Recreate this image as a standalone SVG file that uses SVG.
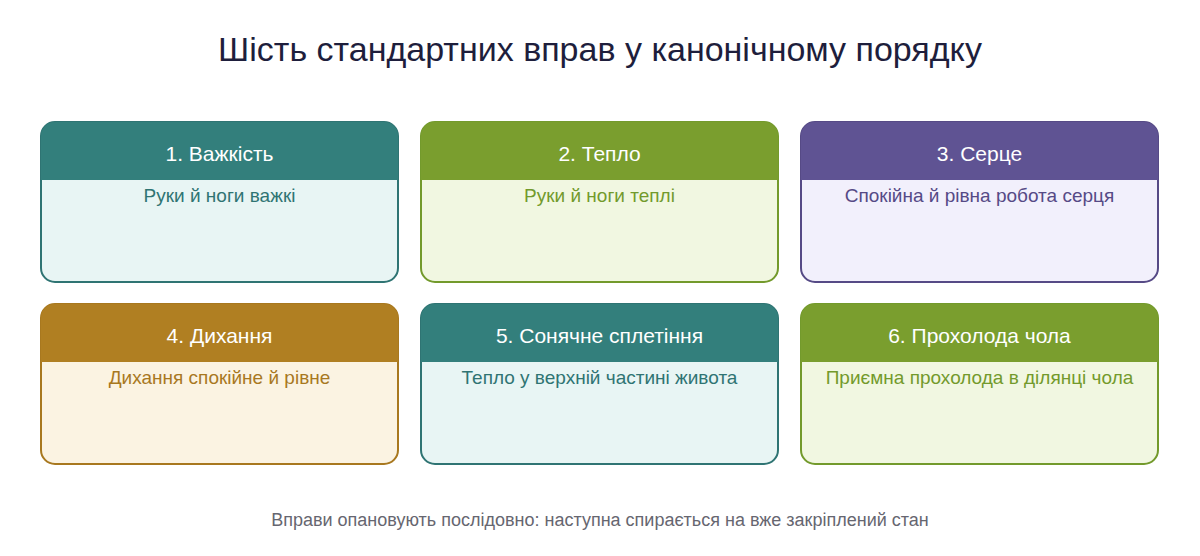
<svg xmlns="http://www.w3.org/2000/svg" width="1200" height="556" viewBox="0 0 1200 556">
<defs>
<style>
text{font-family:"Liberation Sans",Arial,sans-serif;text-anchor:middle}
.title{font-size:34px;fill:#1e1e3c}
.foot{font-size:18px;fill:#666670}
.hd{font-size:21px;fill:#ffffff}
.bd{font-size:19px}
.teal .box{fill:#e8f5f4;stroke:#2f7473}
.teal .hdr{fill:#337f7c}
.teal .bd{fill:#2f7473}
.green .box{fill:#f1f7e1;stroke:#739a2c}
.green .hdr{fill:#7a9e2e}
.green .bd{fill:#739a2c}
.purple .box{fill:#f2f0fc;stroke:#564a86}
.purple .hdr{fill:#5f5393}
.purple .bd{fill:#564a86}
.ochre .box{fill:#fbf3e2;stroke:#a8781f}
.ochre .hdr{fill:#b07f22}
.ochre .bd{fill:#a8781f}
.box{stroke-width:2}
</style>
</defs>
<rect width="1200" height="556" fill="#ffffff"/>
<text class="title" x="600" y="61">Шість стандартних вправ у канонічному порядку</text>
<g id="connectors"/>
<g id="node1" class="teal" transform="translate(41,122)">
<rect class="box" x="0" y="0" width="357" height="160" rx="14"/>
<path class="hdr" d="M0,58 V14 A14,14 0 0 1 14,0 H343 A14,14 0 0 1 357,14 V58 Z"/>
<text class="hd" x="178.5" y="39">1. Важкість</text>
<text class="bd" x="178.5" y="80">Руки й ноги важкі</text>
</g>
<g id="node2" class="green" transform="translate(421,122)">
<rect class="box" x="0" y="0" width="357" height="160" rx="14"/>
<path class="hdr" d="M0,58 V14 A14,14 0 0 1 14,0 H343 A14,14 0 0 1 357,14 V58 Z"/>
<text class="hd" x="178.5" y="39">2. Тепло</text>
<text class="bd" x="178.5" y="80">Руки й ноги теплі</text>
</g>
<g id="node3" class="purple" transform="translate(801,122)">
<rect class="box" x="0" y="0" width="357" height="160" rx="14"/>
<path class="hdr" d="M0,58 V14 A14,14 0 0 1 14,0 H343 A14,14 0 0 1 357,14 V58 Z"/>
<text class="hd" x="178.5" y="39">3. Серце</text>
<text class="bd" x="178.5" y="80">Спокійна й рівна робота серця</text>
</g>
<g id="node4" class="ochre" transform="translate(41,304)">
<rect class="box" x="0" y="0" width="357" height="160" rx="14"/>
<path class="hdr" d="M0,58 V14 A14,14 0 0 1 14,0 H343 A14,14 0 0 1 357,14 V58 Z"/>
<text class="hd" x="178.5" y="39">4. Дихання</text>
<text class="bd" x="178.5" y="80">Дихання спокійне й рівне</text>
</g>
<g id="node5" class="teal" transform="translate(421,304)">
<rect class="box" x="0" y="0" width="357" height="160" rx="14"/>
<path class="hdr" d="M0,58 V14 A14,14 0 0 1 14,0 H343 A14,14 0 0 1 357,14 V58 Z"/>
<text class="hd" x="178.5" y="39">5. Сонячне сплетіння</text>
<text class="bd" x="178.5" y="80">Тепло у верхній частині живота</text>
</g>
<g id="node6" class="green" transform="translate(801,304)">
<rect class="box" x="0" y="0" width="357" height="160" rx="14"/>
<path class="hdr" d="M0,58 V14 A14,14 0 0 1 14,0 H343 A14,14 0 0 1 357,14 V58 Z"/>
<text class="hd" x="178.5" y="39">6. Прохолода чола</text>
<text class="bd" x="178.5" y="80">Приємна прохолода в ділянці чола</text>
</g>
<text class="foot" x="600" y="526">Вправи опановують послідовно: наступна спирається на вже закріплений стан</text>
</svg>
